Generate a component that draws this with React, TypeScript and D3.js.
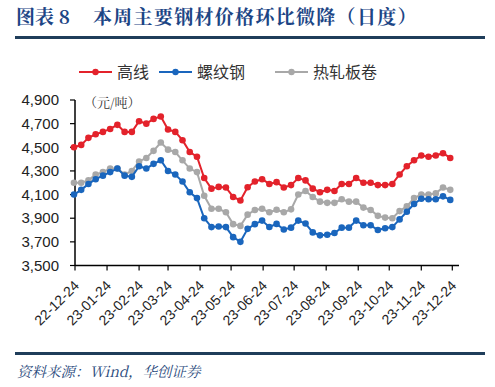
import React from "react";
import * as d3 from "d3";

const dates: string[] = [
  "2022-12-23", "2022-12-30", "2023-01-06", "2023-01-13", "2023-01-20", "2023-01-27",
  "2023-02-03", "2023-02-10", "2023-02-17", "2023-02-24", "2023-03-03", "2023-03-10",
  "2023-03-17", "2023-03-24", "2023-03-31", "2023-04-07", "2023-04-14", "2023-04-21",
  "2023-04-28", "2023-05-05", "2023-05-12", "2023-05-19", "2023-05-26", "2023-06-02",
  "2023-06-09", "2023-06-16", "2023-06-23", "2023-06-30", "2023-07-07", "2023-07-14",
  "2023-07-21", "2023-07-28", "2023-08-04", "2023-08-11", "2023-08-18", "2023-08-25",
  "2023-09-01", "2023-09-08", "2023-09-15", "2023-09-22", "2023-09-29", "2023-10-06",
  "2023-10-13", "2023-10-20", "2023-10-27", "2023-11-03", "2023-11-10", "2023-11-17",
  "2023-11-24", "2023-12-01", "2023-12-08", "2023-12-15", "2023-12-22",
];

const gaoxian: number[] = [
  4500, 4520, 4580, 4610, 4630, 4655, 4690, 4630, 4630, 4720, 4700, 4740, 4760,
  4650, 4630, 4560, 4460, 4420, 4240, 4150, 4165, 4160, 4080, 4050, 4162, 4210,
  4230, 4190, 4205, 4160, 4180, 4240, 4220, 4150, 4120, 4140, 4130, 4190, 4190,
  4240, 4200, 4200, 4180, 4180, 4190, 4270, 4340, 4390, 4430, 4420, 4430, 4450, 4410,
];

const luowengang: number[] = [
  4100, 4140, 4190, 4230, 4260, 4290, 4320, 4260, 4250, 4340, 4320, 4360, 4390,
  4300, 4270, 4210, 4120, 4070, 3900, 3825, 3830, 3825, 3740, 3700, 3810, 3850,
  3880, 3826, 3852, 3805, 3820, 3880, 3855, 3780, 3755, 3760, 3775, 3820, 3820,
  3880, 3840, 3840, 3800, 3815, 3825, 3890, 3955, 4020, 4065, 4060, 4060, 4085, 4055,
];

const rezha: number[] = [
  4200, 4200, 4220, 4270, 4290, 4320, 4320, 4270, 4300, 4380, 4410, 4470, 4540,
  4480, 4460, 4390, 4320, 4290, 4090, 3980, 3980, 3950, 3850, 3835, 3930, 3970,
  3980, 3950, 3972, 3950, 3975, 4100, 4130, 4080, 4040, 4030, 4030, 4060, 4040,
  4040, 3990, 3970, 3920, 3905, 3900, 3960, 4000, 4070, 4100, 4100, 4110, 4160, 4140,
];

const tickLabels: string[] = [
  "22-12-24", "23-01-24", "23-02-24", "23-03-24", "23-04-24", "23-05-24", "23-06-24",
  "23-07-24", "23-08-24", "23-09-24", "23-10-24", "23-11-24", "23-12-24",
];

const yTicks: number[] = [3500, 3700, 3900, 4100, 4300, 4500, 4700, 4900];

const seriesNames: string[] = ["高线", "螺纹钢", "热轧板卷"];
const seriesColors: string[] = ["#e3222b", "#1a66bd", "#a8a8a8"];

export default function App() {
  const parse = d3.timeParse("%Y-%m-%d");
  const parseTick = d3.timeParse("%y-%m-%d");
  const xDates = dates.map((d) => parse(d) as Date);
  const tickDates = tickLabels.map((t) => parseTick(t) as Date);

  const x = d3
    .scaleTime()
    .domain([tickDates[0], tickDates[tickDates.length - 1]])
    .range([75, 452.3]);
  const y = d3.scaleLinear().domain([3500, 4900]).range([265.5, 100]);

  const allSeries = [gaoxian, luowengang, rezha];
  const line = d3
    .line<number>()
    .x((_, i) => x(xDates[i]))
    .y((v) => y(v));

  const fontSans = "Arial, 'Liberation Sans', sans-serif";
  const fontCJK = "'Noto Sans CJK SC', sans-serif";
  const fontSerifCJK = "'Noto Serif CJK SC', 'Noto Sans CJK SC', serif";

  const legendX = [79, 159, 275];
  const legendLineW = 33;

  const order = [2, 1, 0];

  return (
    <svg
      width={495}
      height={387}
      style={{ position: "absolute", left: 0, top: 0, background: "#fff" }}
    >
      <rect x={0} y={0} width={495} height={387} fill="#fff" />
      {/* title */}
      <text
        x={16}
        y={24}
        fontFamily={fontSerifCJK}
        fontWeight="bold"
        fontSize={19}
        fill="#1c4585"
      >
        图表 8
      </text>
      <text
        x={93}
        y={24}
        fontFamily={fontSerifCJK}
        fontWeight="bold"
        fontSize={19}
        letterSpacing={1.3}
        fill="#1c4585"
      >
        本周主要钢材价格环比微降（日度）
      </text>
      <line x1={15} x2={485} y1={37.5} y2={37.5} stroke="#1f3d5a" strokeWidth={3} />

      {/* legend */}
      {seriesNames.map((name, i) => (
        <g key={name}>
          <line
            x1={legendX[i]}
            x2={legendX[i] + legendLineW}
            y1={72}
            y2={72}
            stroke={seriesColors[i]}
            strokeWidth={2}
          />
          <circle cx={legendX[i] + legendLineW / 2} cy={72} r={3.2} fill={seriesColors[i]} />
          <text
            x={legendX[i] + legendLineW + 5}
            y={72}
            dy="0.36em"
            fontFamily={fontCJK}
            fontSize={16}
            fill="#333"
          >
            {name}
          </text>
        </g>
      ))}

      {/* unit */}
      <text x={84} y={102} dy="0.35em" fontFamily={fontSerifCJK} fontSize={13} fill="#333">
        （元/吨）
      </text>

      {/* y axis */}
      <line x1={75} x2={75} y1={y(4900)} y2={y(3500)} stroke="#000" strokeWidth={1.5} />
      {yTicks.map((t) => (
        <g key={t}>
          <line x1={70} x2={75} y1={y(t)} y2={y(t)} stroke="#000" strokeWidth={1.2} />
          <text
            x={59}
            y={y(t)}
            dy="0.35em"
            textAnchor="end"
            fontFamily={fontSans}
            fontSize={15}
            fill="#222"
          >
            {d3.format(",")(t)}
          </text>
        </g>
      ))}

      {/* x axis */}
      <line x1={75} x2={459} y1={y(3500)} y2={y(3500)} stroke="#000" strokeWidth={1.5} />
      {tickDates.map((d, i) => (
        <g key={tickLabels[i]}>
          <line
            x1={x(d)}
            x2={x(d)}
            y1={y(3500)}
            y2={y(3500) + 5}
            stroke="#000"
            strokeWidth={1.2}
          />
          <text
            transform={`translate(${x(d) + 5},${y(3500) + 21}) rotate(-45)`}
            textAnchor="end"
            fontFamily={fontSans}
            fontSize={14}
            fill="#222"
          >
            {tickLabels[i]}
          </text>
        </g>
      ))}

      {/* series */}
      {order.map((si) => (
        <g key={seriesNames[si]}>
          <path
            d={line(allSeries[si]) || ""}
            fill="none"
            stroke={seriesColors[si]}
            strokeWidth={2}
          />
          {allSeries[si].map((v, i) => (
            <circle key={i} cx={x(xDates[i])} cy={y(v)} r={3.3} fill={seriesColors[si]} />
          ))}
        </g>
      ))}

      {/* footer */}
      <line x1={15} x2={485} y1={353.5} y2={353.5} stroke="#1f3d5a" strokeWidth={3} />
      <text
        x={17}
        y={377}
        fontFamily={fontSerifCJK}
        fontStyle="italic"
        fontSize={14.5}
        fill="#2a4a7c"
      >
        资料来源：Wind，华创证券
      </text>
    </svg>
  );
}
